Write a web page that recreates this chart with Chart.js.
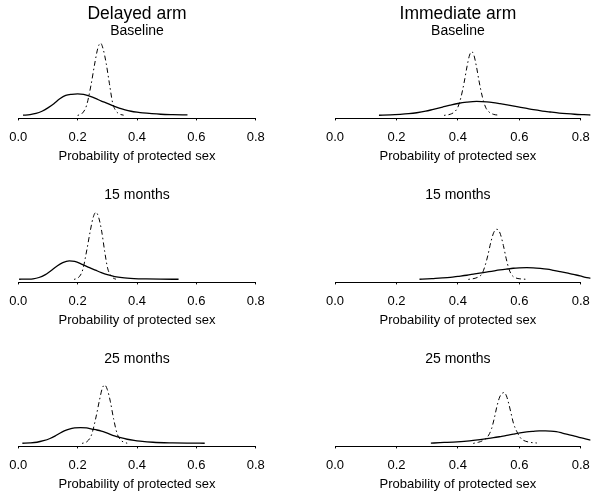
<!DOCTYPE html>
<html><head><meta charset="utf-8">
<script src="https://cdn.jsdelivr.net/npm/chart.js@4/dist/chart.umd.min.js"></script>
<style>
html,body{margin:0;padding:0;background:#fff;}
#wrap{position:relative;width:600px;height:498px;overflow:hidden;background:#fff;}
#wrap canvas{position:absolute;}
</style></head><body><div id="wrap"></div>
<script>
// ---- labels ----
const xTicks = [0, 0.2, 0.4, 0.6, 0.8];
const armTitles = ['Delayed arm', 'Immediate arm'];
const timepoints = ['Baseline', '15 months', '25 months'];
const axisTitle = 'Probability of protected sex';

// ---- density curves [x, density] ----
const delayedBaselineSolid = [[0.016,0.05],[0.04,0.2],[0.06,0.5],[0.08,1.1],[0.10,2.0],[0.12,3.1],[0.14,4.4],[0.16,5.3],[0.18,5.6],[0.20,5.7],[0.22,5.6],[0.24,5.1],[0.26,4.5],[0.28,3.8],[0.30,3.2],[0.32,2.5],[0.34,1.9],[0.36,1.45],[0.38,1.1],[0.40,0.85],[0.42,0.65],[0.45,0.45],[0.48,0.3],[0.52,0.2],[0.57,0.12]];
const delayedBaselineDash = [[0.200,0.0],[0.215,0.5],[0.230,2.6],[0.245,8.0],[0.258,13.9],[0.268,17.8],[0.277,19.2],[0.286,17.6],[0.296,13.9],[0.307,8.5],[0.318,3.3],[0.328,1.3],[0.340,0.4],[0.355,0.05]];

const delayed15Solid = [[0.003,0.03],[0.03,0.08],[0.05,0.15],[0.07,0.5],[0.09,1.2],[0.11,2.3],[0.13,3.5],[0.15,4.45],[0.172,4.9],[0.19,4.75],[0.215,4.0],[0.24,3.1],[0.26,2.45],[0.28,1.8],[0.30,1.25],[0.325,0.75],[0.35,0.45],[0.39,0.22],[0.43,0.12],[0.48,0.06],[0.54,0.03]];
const delayed15Dash = [[0.188,0.0],[0.203,0.5],[0.217,2.5],[0.231,7.8],[0.243,13.0],[0.253,16.6],[0.262,17.8],[0.271,16.4],[0.281,12.8],[0.291,7.5],[0.301,3.0],[0.311,1.1],[0.320,0.35],[0.329,0.05]];

const delayed25Solid = [[0.014,0.03],[0.04,0.12],[0.063,0.3],[0.085,0.7],[0.107,1.3],[0.125,2.0],[0.14,2.7],[0.155,3.3],[0.172,3.8],[0.19,4.1],[0.21,4.2],[0.23,4.1],[0.248,3.8],[0.265,3.55],[0.28,3.25],[0.30,2.7],[0.324,2.0],[0.345,1.5],[0.367,1.1],[0.39,0.8],[0.41,0.6],[0.454,0.3],[0.52,0.13],[0.57,0.07],[0.628,0.04]];
const delayed25Dash = [[0.215,0.0],[0.232,0.5],[0.247,2.3],[0.262,7.0],[0.274,11.6],[0.283,14.6],[0.291,15.5],[0.300,14.3],[0.310,11.2],[0.321,6.6],[0.333,2.6],[0.345,0.9],[0.356,0.3],[0.367,0.05]];

const immediateBaselineSolid = [[0.143,0.03],[0.18,0.12],[0.212,0.27],[0.24,0.45],[0.266,0.7],[0.295,1.1],[0.32,1.6],[0.35,2.2],[0.375,2.7],[0.40,3.15],[0.429,3.5],[0.461,3.7],[0.494,3.6],[0.515,3.4],[0.537,3.1],[0.565,2.7],[0.592,2.3],[0.62,1.9],[0.646,1.5],[0.675,1.15],[0.70,0.9],[0.73,0.62],[0.754,0.45],[0.78,0.3],[0.81,0.18],[0.832,0.1]];
const immediateBaselineDash = [[0.355,0.0],[0.375,0.3],[0.39,1.0],[0.40,2.2],[0.41,4.8],[0.42,8.6],[0.43,13.1],[0.438,16.0],[0.445,16.9],[0.452,16.0],[0.46,13.1],[0.47,8.6],[0.48,4.8],[0.49,2.2],[0.50,1.0],[0.515,0.3],[0.537,0.03]];

const immediate15Solid = [[0.275,0.03],[0.30,0.12],[0.32,0.22],[0.35,0.38],[0.375,0.55],[0.40,0.8],[0.429,1.1],[0.455,1.45],[0.483,1.8],[0.51,2.15],[0.537,2.5],[0.56,2.75],[0.58,2.95],[0.60,3.05],[0.624,3.1],[0.645,3.05],[0.668,2.9],[0.69,2.7],[0.711,2.4],[0.733,2.05],[0.754,1.7],[0.776,1.3],[0.798,0.95],[0.815,0.55],[0.832,0.3]];
const immediate15Dash = [[0.434,0.0],[0.456,0.3],[0.47,0.8],[0.478,1.4],[0.488,3.5],[0.497,6.2],[0.507,9.8],[0.517,12.5],[0.527,13.3],[0.537,12.3],[0.548,9.0],[0.557,5.6],[0.566,2.8],[0.576,1.1],[0.588,0.4],[0.602,0.15],[0.624,0.02]];

const immediate25Solid = [[0.312,0.05],[0.342,0.2],[0.365,0.28],[0.385,0.36],[0.41,0.48],[0.429,0.6],[0.45,0.78],[0.472,1.0],[0.495,1.25],[0.516,1.5],[0.538,1.8],[0.559,2.1],[0.58,2.45],[0.602,2.8],[0.624,3.05],[0.646,3.2],[0.665,3.3],[0.685,3.3],[0.70,3.25],[0.72,3.1],[0.74,2.75],[0.76,2.35],[0.78,1.95],[0.798,1.55],[0.815,1.2],[0.832,0.85]];
const immediate25Dash = [[0.45,0.0],[0.467,0.3],[0.48,0.7],[0.494,1.5],[0.503,2.6],[0.51,4.0],[0.518,6.5],[0.527,9.8],[0.536,12.3],[0.543,13.2],[0.551,13.5],[0.558,12.6],[0.565,10.7],[0.573,8.0],[0.581,5.3],[0.592,3.1],[0.600,1.9],[0.608,1.1],[0.63,0.36],[0.657,0.1]];

// ---- layout ----
const FONT = '"Liberation Sans", Arial, Helvetica, sans-serif';
const panels = [
  {col:0,row:0,solid:delayedBaselineSolid,dash:delayedBaselineDash},
  {col:1,row:0,solid:immediateBaselineSolid,dash:immediateBaselineDash},
  {col:0,row:1,solid:delayed15Solid,dash:delayed15Dash},
  {col:1,row:1,solid:immediate15Solid,dash:immediate15Dash},
  {col:0,row:2,solid:delayed25Solid,dash:delayed25Dash},
  {col:1,row:2,solid:immediate25Solid,dash:immediate25Dash}
];
const colGeom = [{left:0,width:274,padL:4.2,padR:4.2},{left:300,width:300,padL:25.2,padR:9.4}];
const rowTop = [0,164,328];
const canvasH = 165;

const axisLinePlugin = {
  id:'axisLine',
  afterDraw(chart){
    const xs = chart.scales.x, ctx = chart.ctx;
    const x0 = xs.getPixelForValue(xTicks[0]);
    const x1 = xs.getPixelForValue(xTicks[xTicks.length-1]);
    const y = Math.round(xs.top) + 0.5;
    ctx.save();
    ctx.strokeStyle = '#000'; ctx.lineWidth = 1;
    ctx.beginPath(); ctx.moveTo(x0, y); ctx.lineTo(x1, y); ctx.stroke();
    ctx.restore();
  }
};

const wrap = document.getElementById('wrap');
panels.forEach(p => {
  const g = colGeom[p.col];
  const cv = document.createElement('canvas');
  cv.width = g.width; cv.height = canvasH;
  cv.style.left = g.left + 'px'; cv.style.top = rowTop[p.row] + 'px';
  cv.style.width = g.width + 'px'; cv.style.height = canvasH + 'px';
  wrap.appendChild(cv);
  new Chart(cv, {
    type: 'line',
    data: { datasets: [
      { label: 'Density (solid)', data: p.solid.map(([x,y]) => ({x, y})), borderColor:'#000', borderWidth:1.3, pointRadius:0, fill:false, cubicInterpolationMode:'monotone' },
      { label: 'Density (dot-dash)', data: p.dash.map(([x,y]) => ({x, y})), borderColor:'#000', borderWidth:1, borderDash:[1.5,3,5,3], pointRadius:0, fill:false, cubicInterpolationMode:'monotone' }
    ]},
    options: {
      responsive:false, animation:false, devicePixelRatio:1,
      layout:{ padding:{ left:g.padL, right:g.padR, top: p.row===0 ? 0 : 22.75, bottom:0 } },
      plugins:{
        legend:{display:false}, tooltip:{enabled:false},
        title:{ display: p.row===0, text: armTitles[p.col], color:'#000',
          font:{family:FONT, size:17.5, weight:'normal', lineHeight:1}, padding:{top:5.25, bottom:0} },
        subtitle:{ display:true, text: timepoints[p.row], color:'#000',
          font:{family:FONT, size:14, weight:'normal', lineHeight:1}, padding:{top:1.25, bottom:0} }
      },
      scales:{
        x:{ type:'linear', min:-0.032, max:0.832,
          afterBuildTicks: s => { s.ticks = xTicks.map(v => ({value:v})); },
          ticks:{ callback: v => Number(v).toFixed(1), color:'#000', font:{family:FONT, size:13, lineHeight:1.2}, padding:9.2, maxRotation:0, autoSkip:false },
          grid:{ drawOnChartArea:false, drawTicks:true, tickLength:2, color:'#000', lineWidth:1 },
          border:{ display:false },
          title:{ display:true, text:axisTitle, color:'#000', font:{family:FONT, size:13, lineHeight:1.2}, padding:{top:-5.6, bottom:0.6} }
        },
        y:{ display:false, min:-0.8, max:20.53 }
      }
    },
    plugins:[axisLinePlugin]
  });
});
</script>
</body></html>
